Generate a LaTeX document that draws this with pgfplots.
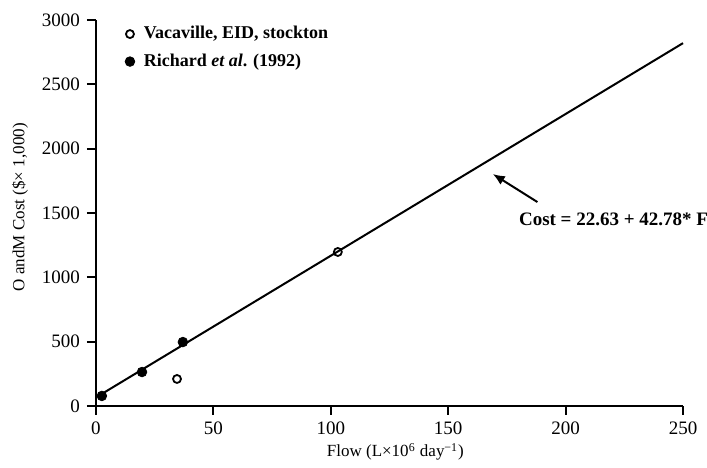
\documentclass[border=0pt]{standalone}
\usepackage{pgfplots}
\pgfplotsset{compat=1.18}
\usepackage{fontspec}
\setmainfont{Liberation Serif}
\usetikzlibrary{arrows.meta}

\begin{document}
\begin{tikzpicture}
\begin{axis}[
  name=ax,
  scale only axis, width=293.5pt, height=193pt,
  xmin=0, xmax=250, ymin=0, ymax=3000,
  axis x line*=bottom, axis y line*=left,
  axis line style={line width=1pt, -},
  xtick={0,50,...,250}, ytick={0,500,...,3000},
  tick align=outside, major tick length=4.5pt,
  tick style={line width=1pt, black},
  ticklabel style={font=\fontsize{9.5}{11}\selectfont},
  /pgf/number format/assume math mode=true,
  /pgf/number format/1000 sep={},
  xlabel={Flow (L×10\textsuperscript{6} day\textsuperscript{−1})},
  ylabel={O andM Cost (\$× 1,000)},
  label style={font=\fontsize{8.5}{10}\selectfont},
  xlabel style={at={(axis description cs:0.51,0)}, anchor=center, yshift=-23pt},
  ylabel style={at={(axis description cs:0,0.515)}, anchor=center, yshift=38pt},
  legend style={at={(axis description cs:0.049,0.995)}, anchor=north west,
    draw=none, fill=none, inner sep=0pt, row sep=2pt,
    font=\fontsize{9}{10}\selectfont\bfseries,
    /tikz/every odd column/.append style={column sep=2.5pt}},
  legend cell align=left,
  clip=false,
]
\addplot[only marks, mark=o, mark size=2pt, line width=0.9pt, black]
  coordinates {(34.5,210) (103,1197)};
\addlegendentry{Vacaville, EID, stockton}
\addplot[only marks, mark=*, mark size=2.4pt, black]
  coordinates {(2.5,78) (19.6,264) (37,497)};
\addlegendentry{Richard \textit{et al}. (1992)}
\addplot[black, line width=1pt, forget plot]
  coordinates {(0.5,72) (250,2820)};
\draw[-{Latex[length=6pt,width=5pt]}, line width=1pt]
  (axis cs:188,1585) -- (axis cs:169,1803);
\node[anchor=west, font=\fontsize{9.5}{11}\selectfont\bfseries, inner sep=0pt]
  at (axis cs:180,1453) {Cost = 22.63 + 42.78* F};
\end{axis}
\pgfresetboundingbox
\path ([shift={(-48pt,-31pt)}]ax.south west) rectangle ([shift={(12pt,10pt)}]ax.north east);
\end{tikzpicture}
\end{document}
